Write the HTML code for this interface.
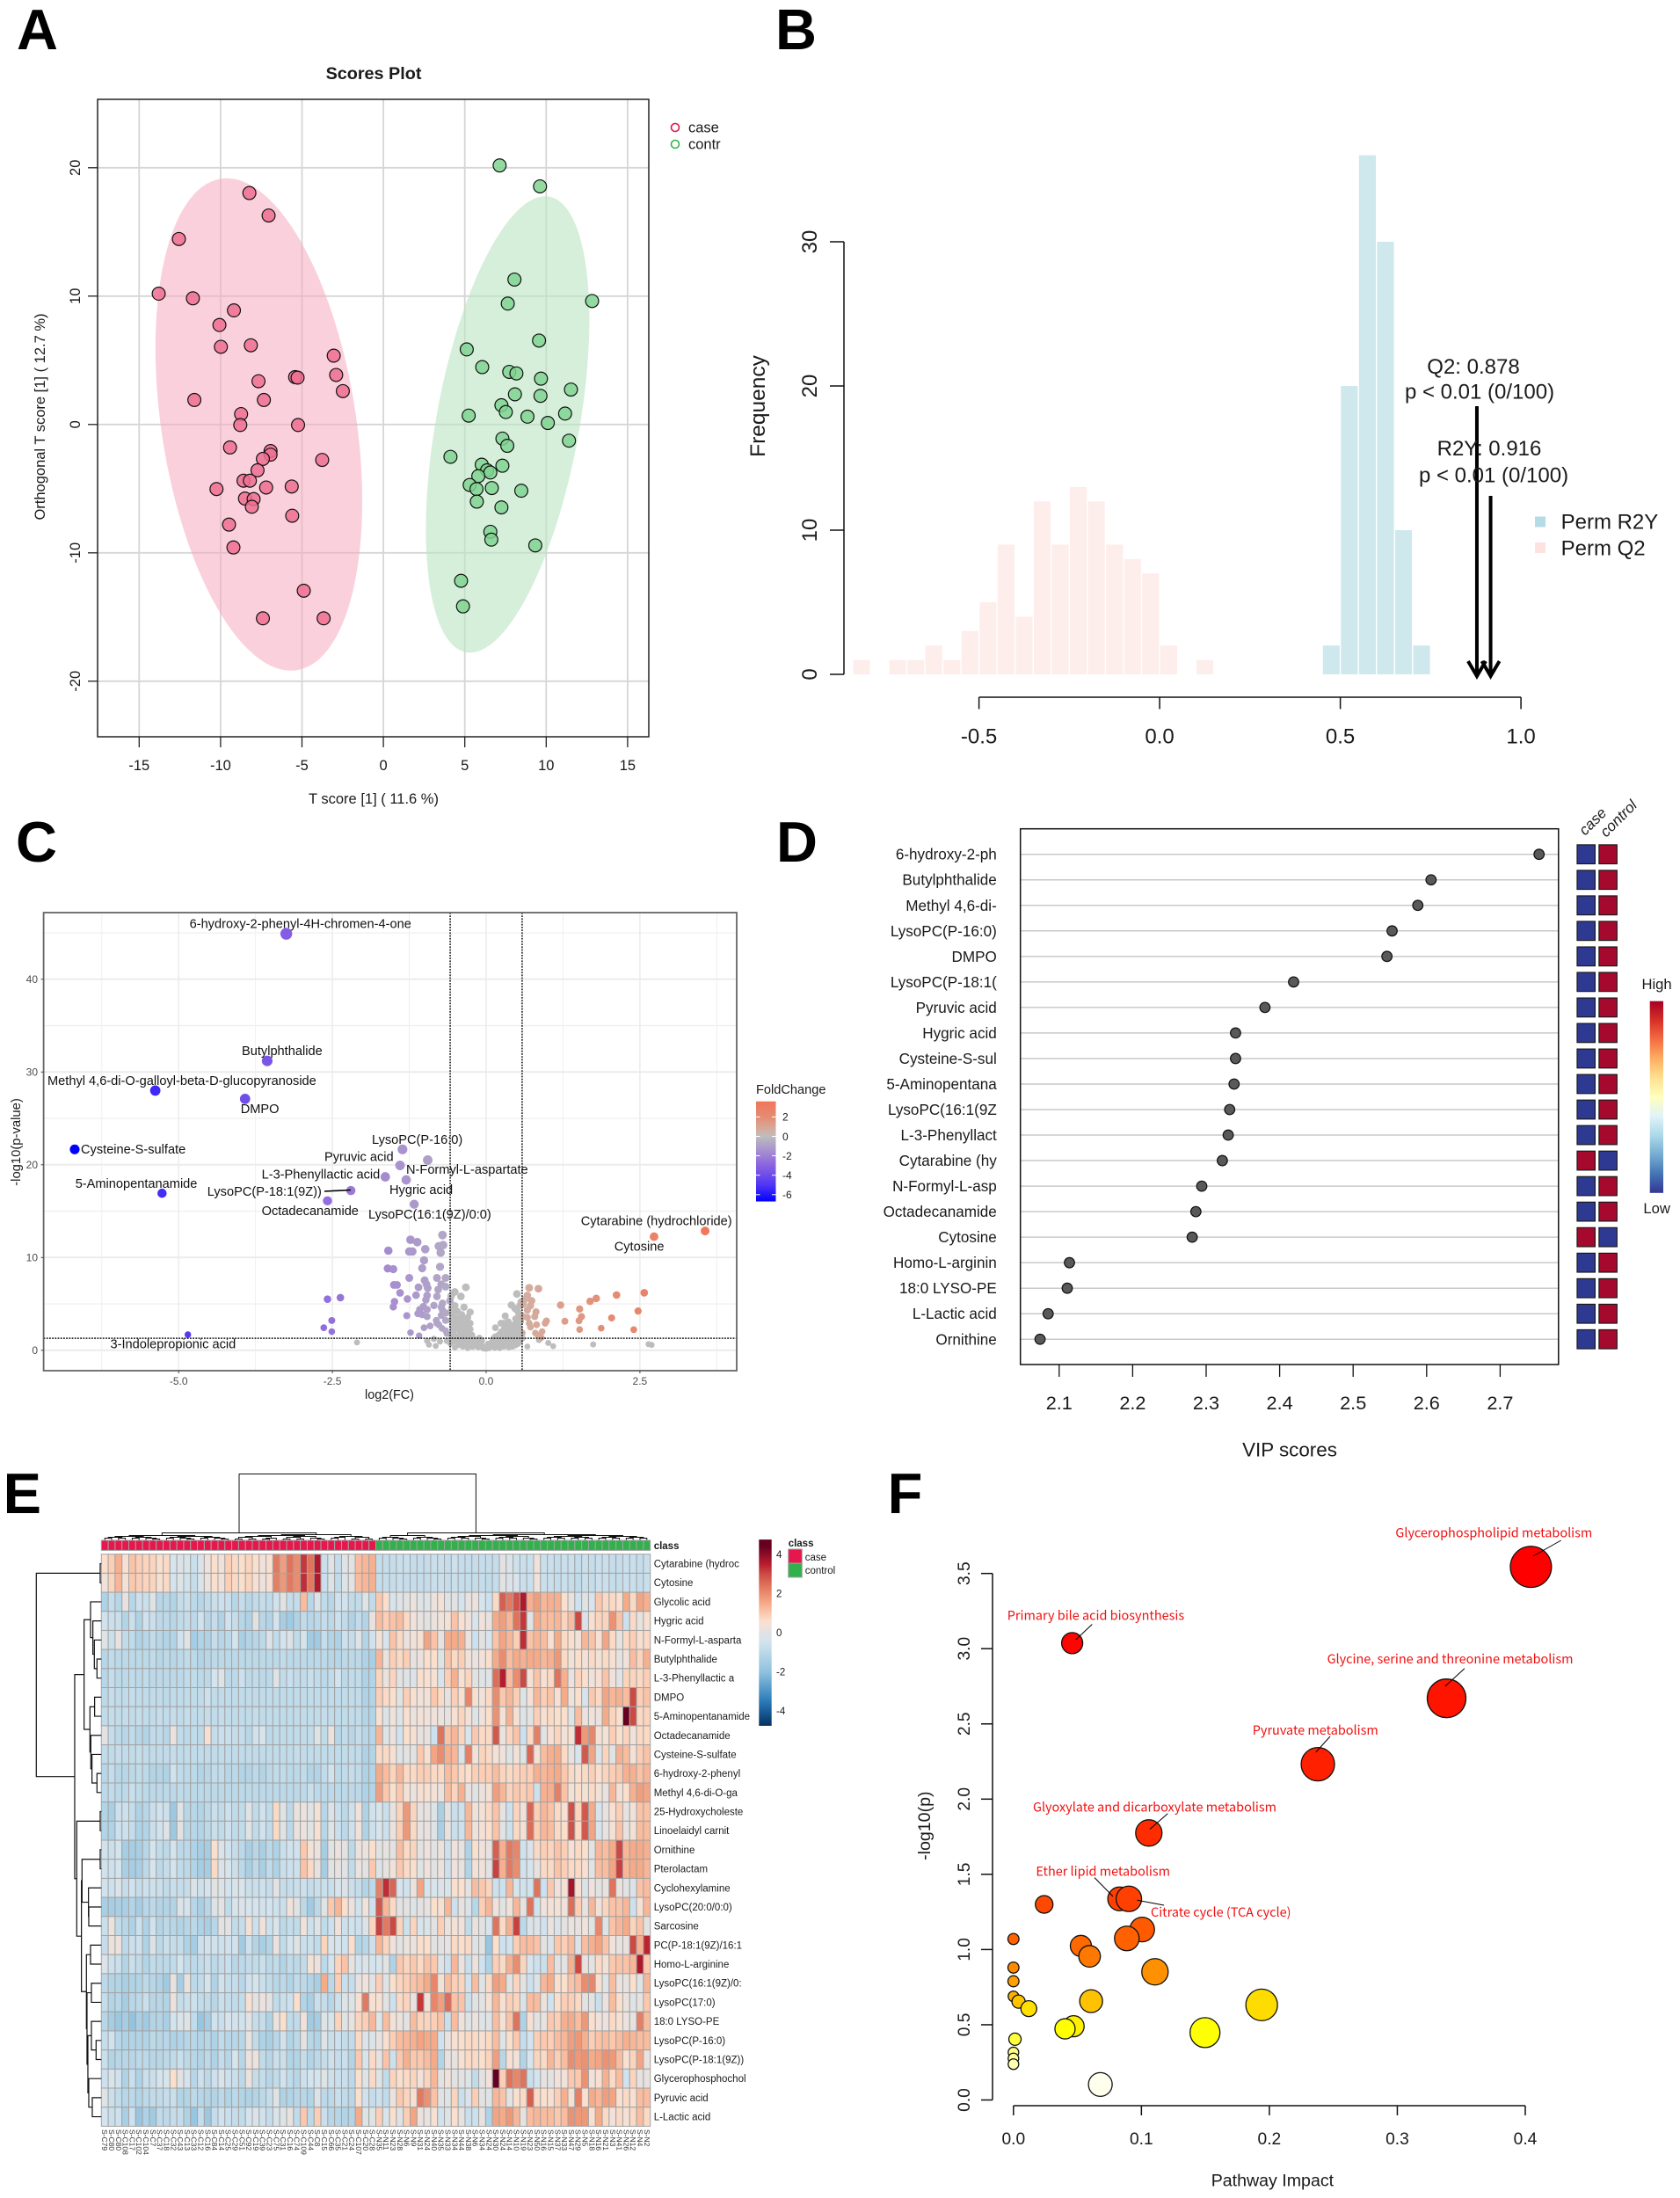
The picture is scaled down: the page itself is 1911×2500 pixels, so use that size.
<!DOCTYPE html>
<html lang="en">
<head>
<meta charset="utf-8">
<title>Metabolomics multi-panel figure</title>
<style>
html,body{margin:0;padding:0;background:#fff}
svg{display:block}
text{font-family:"Liberation Sans",Arial,sans-serif;fill:#1a1a1a}
.letter{font-weight:bold;font-size:65px;fill:#000}
.redlab{font-family:"Noto Sans CJK SC","Liberation Sans",sans-serif;font-size:14.45px;fill:#f01010}
.vlab{font-size:14.6px;fill:#111}
</style>
</head>
<body>
<svg id="fig" xmlns="http://www.w3.org/2000/svg" width="1911" height="2500" viewBox="0 0 1911 2500">
<rect x="0" y="0" width="1911" height="2500" fill="#fff"/>
<text class="letter" x="19" y="56">A</text>
<text class="letter" x="882" y="56">B</text>
<text class="letter" x="18" y="980">C</text>
<text class="letter" x="883" y="980">D</text>
<text class="letter" x="3.6" y="1721">E</text>
<text class="letter" x="1009.6" y="1721">F</text>

<g id="panelA"></g>
<text x="425" y="90" text-anchor="middle" font-size="19.8" font-weight="bold">Scores Plot</text>
<text x="425" y="914" text-anchor="middle" font-size="16.5">T score [1] ( 11.6 %)</text>
<text transform="translate(51,474) rotate(-90)" text-anchor="middle" font-size="16.5">Orthogonal T score [1] ( 12.7 %)</text>
<circle cx="768" cy="145" r="4.5" fill="none" stroke="#e0164c" stroke-width="1.6"/>
<circle cx="768" cy="164" r="4.5" fill="none" stroke="#35b34a" stroke-width="1.6"/>
<text x="783" y="150.5" font-size="16.5">case</text>
<text x="783" y="169.5" font-size="16.5">contr</text>

<g id="panelB"></g>
<text transform="translate(870,462) rotate(-90)" text-anchor="middle" font-size="24.5">Frequency</text>
<text x="1676" y="425" text-anchor="middle" font-size="24">Q2: 0.878</text>
<text x="1683" y="453.5" text-anchor="middle" font-size="24">p &lt; 0.01 (0/100)</text>
<text x="1694" y="518" text-anchor="middle" font-size="24">R2Y: 0.916</text>
<text x="1699" y="548.5" text-anchor="middle" font-size="24">p &lt; 0.01 (0/100)</text>
<rect x="1746" y="587.5" width="12" height="12" fill="#b5dbe6"/>
<rect x="1746" y="617" width="12" height="12" fill="#fde3e0"/>
<text x="1775.6" y="601.6" font-size="24">Perm R2Y</text>
<text x="1775.6" y="631.5" font-size="24">Perm Q2</text>

<g id="panelC"></g>
<g>
<text class="vlab" x="215.6" y="1055.7">6-hydroxy-2-phenyl-4H-chromen-4-one</text>
<text class="vlab" x="275" y="1200">Butylphthalide</text>
<text class="vlab" x="54" y="1234">Methyl 4,6-di-O-galloyl-beta-D-glucopyranoside</text>
<text class="vlab" x="273.7" y="1266">DMPO</text>
<text class="vlab" x="92" y="1312">Cysteine-S-sulfate</text>
<text class="vlab" x="85.7" y="1351">5-Aminopentanamide</text>
<text class="vlab" x="423" y="1301">LysoPC(P-16:0)</text>
<text class="vlab" x="369" y="1320.7">Pyruvic acid</text>
<text class="vlab" x="462" y="1335">N-Formyl-L-aspartate</text>
<text class="vlab" x="297.6" y="1340.6">L-3-Phenyllactic acid</text>
<text class="vlab" x="443" y="1358">Hygric acid</text>
<text class="vlab" x="235.8" y="1360">LysoPC(P-18:1(9Z))</text>
<line x1="369" y1="1355" x2="399" y2="1353.5" stroke="#000" stroke-width="1.6"/>
<text class="vlab" x="297.6" y="1382">Octadecanamide</text>
<text class="vlab" x="419" y="1386">LysoPC(16:1(9Z)/0:0)</text>
<text class="vlab" x="660.7" y="1393.5">Cytarabine (hydrochloride)</text>
<text class="vlab" x="698.7" y="1422.6">Cytosine</text>
<text class="vlab" x="125.5" y="1533.6">3-Indolepropionic acid</text>
</g>
<text x="443" y="1591" text-anchor="middle" font-size="14.4">log2(FC)</text>
<text transform="translate(23,1299) rotate(-90)" text-anchor="middle" font-size="14.8">-log10(p-value)</text>
<text x="860" y="1244" font-size="14.6">FoldChange</text>

<g id="panelD"></g>
<text x="1467" y="1656.4" text-anchor="middle" font-size="22.4">VIP scores</text>
<text transform="translate(1803,951) rotate(-45)" font-size="17" font-style="italic">case</text>
<text transform="translate(1827,953) rotate(-45)" font-size="17" font-style="italic">control</text>
<text x="1884.6" y="1125" text-anchor="middle" font-size="16.6">High</text>
<text x="1884.6" y="1380" text-anchor="middle" font-size="16.6">Low</text>

<g id="panelE"></g>
<text x="743.7" y="1762" font-size="11.5" font-weight="bold">class</text>
<text x="896.7" y="1759" font-size="11.5" font-weight="bold">class</text>
<rect x="896.7" y="1762" width="15.6" height="16" fill="#e6174d" stroke="#a3a3a3"/>
<rect x="896.7" y="1778" width="15.6" height="16" fill="#32b04c" stroke="#a3a3a3"/>
<text x="915.7" y="1775" font-size="11.5">case</text>
<text x="915.7" y="1790" font-size="11.5">control</text>

<g id="panelF"></g>
<text x="1447.4" y="2486.5" text-anchor="middle" font-size="19.6">Pathway Impact</text>
<text transform="translate(1058,2076.7) rotate(-90)" text-anchor="middle" font-size="19.6">-log10(p)</text>
<g>
<text class="redlab" x="1587.4" y="1748.4">Glycerophospholipid metabolism</text>
<text class="redlab" x="1145.8" y="1842.6">Primary bile acid biosynthesis</text>
<text class="redlab" x="1509.6" y="1892">Glycine, serine and threonine metabolism</text>
<text class="redlab" x="1424.8" y="1972.8">Pyruvate metabolism</text>
<text class="redlab" x="1175" y="2060.6">Glyoxylate and dicarboxylate metabolism</text>
<text class="redlab" x="1178.4" y="2133.5">Ether lipid metabolism</text>
<text class="redlab" x="1309" y="2180">Citrate cycle (TCA cycle)</text>
</g>
<g id="panelFLeaders" stroke="#000" stroke-width="1">
<line x1="1775.7" y1="1752" x2="1743.8" y2="1770"/>
<line x1="1242.3" y1="1847.5" x2="1223.7" y2="1865"/>
<line x1="1665.9" y1="1897.8" x2="1643.8" y2="1918"/>
<line x1="1513" y1="1975" x2="1496.8" y2="1993"/>
<line x1="1328.3" y1="2062.8" x2="1308" y2="2080.5"/>
<line x1="1245" y1="2135.6" x2="1266" y2="2157"/>
<line x1="1324" y1="2167" x2="1293.4" y2="2161.3"/>
</g>
</svg>

<script>
/* ---------- Panel A data: T score, orthogonal T score ---------- */
const scoresCase=[[-8.23,18.03],[-7.05,16.28],[-12.56,14.45],[-13.8,10.19],[-11.7,9.83],[-9.18,8.89],[-10.07,7.75],[-9.98,6.05],[-8.14,6.17],[-3.05,5.36],[-2.9,3.86],[-2.49,2.6],[-5.42,3.69],[-5.27,3.65],[-7.67,3.37],[-11.61,1.91],[-7.34,1.91],[-8.74,0.81],[-8.79,-0.04],[-5.24,-0.04],[-9.42,-1.79],[-6.93,-2.07],[-6.93,-2.35],[-7.4,-2.68],[-3.76,-2.76],[-7.73,-3.57],[-8.59,-4.38],[-8.2,-4.38],[-7.2,-4.91],[-5.63,-4.83],[-10.25,-5.03],[-8.5,-5.77],[-7.97,-5.81],[-8.08,-6.41],[-5.6,-7.11],[-9.48,-7.8],[-9.21,-9.58],[-4.89,-12.95],[-7.4,-15.1],[-3.67,-15.1]];
const scoresControl=[[7.14,20.18],[9.62,18.55],[8.05,11.29],[7.64,9.42],[12.82,9.62],[9.56,6.54],[5.12,5.85],[6.07,4.47],[7.73,4.1],[8.17,3.98],[9.68,3.57],[11.52,2.72],[8.08,2.35],[9.65,2.23],[7.25,1.5],[7.52,0.97],[5.24,0.69],[8.85,0.61],[11.16,0.85],[10.1,0.12],[7.31,-1.1],[7.61,-1.66],[11.4,-1.26],[4.12,-2.52],[6.04,-3.13],[7.31,-3.21],[6.37,-3.57],[6.57,-3.74],[5.83,-4.02],[5.3,-4.71],[5.72,-5.03],[6.66,-4.95],[8.47,-5.16],[5.74,-6.01],[7.25,-6.46],[6.57,-8.36],[6.63,-8.97],[9.33,-9.42],[4.77,-12.18],[4.89,-14.17]];
const scoresXTicks=[-15,-10,-5,0,5,10,15];
const scoresYTicks=[-20,-10,0,10,20];
const ellipseCase=[-7.65,0,6.35,19.18,-0.31];
const ellipseControl=[7.63,0,5.02,17.78,0.46];

/* ---------- Panel B data: permutation histogram (bins of 0.05) ---------- */
const q2BinStarts=[-0.85,-0.75,-0.7,-0.65,-0.6,-0.55,-0.5,-0.45,-0.4,-0.35,-0.3,-0.25,-0.2,-0.15,-0.1,-0.05,0,0.1];
const q2Counts=[1,1,1,2,1,3,5,9,4,12,9,13,12,9,8,7,2,1];
const r2yBinStarts=[0.45,0.5,0.55,0.6,0.65,0.7];
const r2yCounts=[2,20,36,30,10,2];
const histXTicks=[-0.5,0,0.5,1];
const histYTicks=[0,10,20,30];
const observedQ2=0.878;
const observedR2Y=0.916;

/* ---------- Panel C data: log2(FC), -log10(p) ---------- */
const volcanoGray=[[-0.33,6.79],[-0.51,6.29],[-0.57,5.85],[-0.41,5.81],[-0.59,5.34],[-0.51,4.8],[-0.56,4.58],[-0.36,4.64],[-0.26,4.11],[-0.52,3.7],[-0.4,3.85],[-0.57,3.22],[-0.45,3.38],[-0.3,3.54],[-0.26,2.91],[-0.52,2.75],[-0.38,2.75],[-0.47,2.27],[-0.33,2.27],[-0.54,2.12],[-0.26,2.27],[-0.4,1.8],[-0.3,1.64],[-0.57,1.64],[-0.47,1.48],[-0.23,1.64],[-0.11,1.33],[-0.52,1.01],[-0.38,1.01],[-0.23,0.85],[-0.45,0.54],[-0.3,0.22],[-0.51,0.28],[-0.57,0.79],[-0.16,0.54],[-0.09,0.38],[-0.02,0.16],[0.01,0.16],[0.05,0.22],[0.1,0.38],[0.17,0.54],[0.22,0.22],[0.29,0.38],[0.36,0.54],[0.43,0.38],[0.1,1.01],[0.2,1.17],[0.29,1.33],[0.39,1.17],[0.46,0.85],[0.5,1.33],[0.15,2.43],[0.24,1.96],[0.34,1.8],[0.43,2.12],[0.29,2.91],[0.31,3.7],[0.36,3.06],[0.46,2.75],[0.53,3.38],[0.41,4.87],[0.5,6.07],[0.55,4.8],[0.5,4.33],[0.59,3.7],[0.54,2.43],[0.59,1.86],[0.15,1.48],[0.03,0.7],[-0.07,1.01],[-0.19,1.17],[-0.4,1.17],[-0.52,1.64],[0.34,2.43],[0.24,2.91],[0.48,3.38],[-0.47,2.91],[-0.3,2.75],[-0.35,3.22],[-0.42,1.96],[-0.3,1.01],[-0.19,0.54],[-0.09,0.85],[-0.45,1.01],[-0.26,0.54],[-0.38,0.38],[0.2,0.38],[0.29,0.85],[0.41,0.85],[0.48,0.54],[0.15,0.85],[0.08,0.79],[0.39,1.96],[0.29,2.27],[0.2,1.64],[0.46,1.64],[-2.1,0.85],[-0.96,1.01],[-0.93,0.6],[-0.85,1.23],[-0.82,0.47],[-0.75,0.95],[-0.64,1.01],[-0.58,0.7],[0.67,0.41],[0.86,1.11],[1.01,0.79],[1.09,0.44],[1.74,0.63],[0.59,1.29],[2.64,0.66],[2.69,0.58],[-0.55,3.4],[-0.48,3.1],[-0.42,2.6],[-0.36,2.4],[-0.5,2.5],[-0.44,2.2],[-0.38,2],[-0.33,1.9],[-0.55,1.3],[-0.49,1.2],[-0.44,1.3],[-0.35,1.4],[-0.27,1.3],[-0.21,1.1],[-0.16,0.9],[-0.12,0.7],[-0.55,0.9],[-0.48,0.8],[-0.42,0.75],[-0.35,0.7],[-0.28,0.75],[-0.22,0.35],[-0.13,0.3],[-0.06,0.5],[-0.05,0.2],[0.03,0.3],[0.07,0.5],[0.12,0.6],[0.14,0.25],[0.18,0.8],[0.22,0.65],[0.25,0.45],[0.27,1.1],[0.32,0.6],[0.33,1.05],[0.37,0.3],[0.4,0.55],[0.44,0.9],[0.48,1.1],[0.52,0.7],[0.55,1],[0.56,1.5],[0.5,1.8],[0.52,2.2],[0.44,1.4],[0.38,1.45],[0.32,1.5],[0.26,1.4],[0.22,1.3],[0.16,1.15],[0.12,1.3],[0.47,2.4],[0.42,2.7],[0.38,2.6],[0.33,2.9],[0.5,2.9],[0.56,3.1],[0.53,4],[0.47,4.5],[0.57,5.2],[-0.58,4.1],[-0.47,4.2],[-0.55,2.6],[-0.42,3.2],[-0.34,2.9],[-0.29,2.1]];
const volcanoDown=[[-0.71,12.42],[-1.23,11.91],[-1.12,11.66],[-0.77,11.22],[-0.7,11.34],[-1.59,10.74],[-1.25,10.65],[-1.2,10.65],[-0.99,10.9],[-0.74,10.52],[-1.01,9.7],[-1.6,8.82],[-1.51,8.75],[-1.04,8.85],[-0.75,9],[-1.25,7.8],[-0.8,7.8],[-0.66,7.8],[-1.5,7.05],[-1.45,7.05],[-1,7.55],[-0.97,7.11],[-1.1,6.79],[-0.95,6.7],[-0.73,7.11],[-0.66,6.86],[-1.4,6.19],[-0.78,6.54],[-0.96,5.91],[-1.14,5.94],[-0.8,5.81],[-1.28,5.53],[-0.98,5.43],[-1.49,5.24],[-1.51,4.68],[-0.71,5.06],[-0.85,4.83],[-1.02,4.71],[-0.96,4.39],[-1.08,4.39],[-0.73,4.64],[-0.71,4.33],[-1.11,3.95],[-1.04,3.85],[-1.29,3.73],[-0.96,3.63],[-0.73,3.76],[-0.66,4.01],[-0.81,3.22],[-0.66,3.22],[-0.91,2.62],[-1.01,2.43],[-0.77,2.75],[-0.72,2.37],[-0.66,2.12],[-1.23,1.9],[-1.09,1.58],[-0.64,1.8],[-0.8,2.91],[-2.58,5.51],[-2.37,5.67],[-2.51,3.21],[-2.64,2.43],[-2.51,2.01]];
const volcanoUp=[[0.7,6.73],[0.85,6.64],[0.67,5.91],[0.62,5.43],[0.6,4.96],[0.74,5.34],[0.72,4.8],[0.67,4.33],[0.81,4.14],[0.6,3.63],[0.67,3.54],[0.79,3.63],[0.7,2.91],[0.72,2.5],[0.82,2.75],[0.98,3.16],[0.96,2.91],[0.8,1.86],[0.91,2.02],[0.84,1.64],[0.9,1.36],[1.21,4.87],[1.28,3.13],[1.52,4.45],[1.55,3.63],[1.51,3.19],[1.52,2.24],[1.69,5.28],[1.79,5.59],[2.04,3.49],[1.87,2.38],[2.12,5.96],[2.57,6.2],[2.47,4.23],[2.4,2.22]];
const volcanoNamed=[[-3.25,44.9],[-3.56,31.2],[-5.38,28],[-3.92,27.1],[-6.69,21.66],[-5.27,16.93],[-1.36,21.66],[-0.95,20.5],[-1.4,19.93],[-1.64,18.7],[-1.3,18.37],[-2.2,17.22],[-2.58,16.11],[-1.17,15.74],[3.56,12.86],[2.73,12.25],[-4.85,1.69]];
const volcanoXTicks=[-5,-2.5,0,2.5];
const volcanoYTicks=[0,10,20,30,40];
const volcanoXMinor=[-6.25,-3.75,-1.25,1.25,3.75];
const volcanoYMinor=[5,15,25,35,45];
const fcCutoffs=[-0.585,0.585];
const pCutoff=1.3;
const foldLegendTicks=[2,0,-2,-4,-6];

/* ---------- Panel D data ---------- */
const vipNames=["6-hydroxy-2-ph","Butylphthalide","Methyl 4,6-di-","LysoPC(P-16:0)","DMPO","LysoPC(P-18:1(","Pyruvic acid","Hygric acid","Cysteine-S-sul","5-Aminopentana","LysoPC(16:1(9Z","L-3-Phenyllact","Cytarabine (hy","N-Formyl-L-asp","Octadecanamide","Cytosine","Homo-L-arginin","18:0 LYSO-PE","L-Lactic acid","Ornithine"];
const vipScores=[2.753,2.606,2.588,2.553,2.546,2.419,2.38,2.34,2.34,2.338,2.332,2.33,2.322,2.294,2.286,2.281,2.114,2.111,2.085,2.074];
const vipCaseHigh=[0,0,0,0,0,0,0,0,0,0,0,0,1,0,0,1,0,0,0,0];
const vipTicks=[2.1,2.2,2.3,2.4,2.5,2.6,2.7];

/* ---------- Panel E data: z-scores in tenths; case = columns 1-40, control = columns 41-80 ---------- */
const heatRowNames=["Cytarabine (hydroc","Cytosine","Glycolic acid","Hygric acid","N-Formyl-L-asparta","Butylphthalide","L-3-Phenyllactic a","DMPO","5-Aminopentanamide","Octadecanamide","Cysteine-S-sulfate","6-hydroxy-2-phenyl","Methyl 4,6-di-O-ga","25-Hydroxycholeste","Linoelaidyl carnit","Ornithine","Pterolactam","Cyclohexylamine","LysoPC(20:0/0:0)","Sarcosine","PC(P-18:1(9Z)/16:1","Homo-L-arginine","LysoPC(16:1(9Z)/0:","LysoPC(17:0)","18:0 LYSO-PE","LysoPC(P-16:0)","LysoPC(P-18:1(9Z))","Glycerophosphochol","Pyruvic acid","L-Lactic acid"];
const heatColumnIds=["S-C79","S-C80","S-C80","S-C108","S-C17","S-C102","S-C104","S-C7","S-C37","S-C18","S-C32","S-C43","S-C13","S-C33","S-C12","S-C16","S-C84","S-C14","S-C25","S-C29","S-C51","S-C92","S-C19","S-C39","S-C23","S-C75","S-C31","S-C16","S-C74","S-C109","S-C44","S-C8","S-C15","S-C66","S-C35","S-C21","S-C24","S-C107","S-C20","S-C28","S-N35","S-N11","S-N23","S-N28","S-N6","S-N9","S-N31","S-N24","S-N40","S-N35","S-N33","S-N34","S-N44","S-N38","S-N6","S-N34","S-N24","S-N30","S-N24","S-N14","S-N10","S-N19","S-N23","S-N50","S-N16","S-N15","S-N37","S-N33","S-N47","S-N29","S-N5","S-N18","S-N16","S-N21","S-N3","S-N41","S-N26","S-N12","S-N4","S-N2"];
const heatCase=[
[6,9,14,5,11,9,8,8,6,7,-3,-2,-3,-7,-2,3,6,3,9,7,6,8,6,3,5,23,17,24,20,32,24,36,-7,-1,-8,-1,0,12,13,14],
[3,8,13,4,10,9,8,8,5,7,-4,-1,-5,-8,-2,2,6,3,9,7,6,8,5,2,5,22,18,23,20,33,23,36,-7,-2,-9,-1,0,12,13,14],
[-13,-8,-11,1,-11,-6,-7,-1,-11,-11,-12,-8,-7,-10,-11,-9,-7,-6,-7,-11,-8,-11,-9,-8,-9,-5,0,-8,-8,12,-11,-2,-9,-11,-5,-5,-9,-9,-1,-9],
[-5,-7,-7,-12,-7,-13,-5,-7,-10,-10,-11,-9,-8,-10,-5,-11,-8,-13,-5,-8,-11,-13,0,-11,-12,-4,-15,-16,-13,-9,-11,-10,-8,-10,-6,-9,-13,-9,-12,1],
[-1,-7,1,-9,-9,-13,-11,-9,-11,-12,-12,-5,-1,-15,-12,-13,-8,-11,-10,-4,-14,-12,-11,-10,-2,-9,-4,-2,-9,-4,-16,-16,-8,-12,-13,-6,-8,-1,-12,-5],
[-11,-9,-10,-10,-10,-10,-10,-9,-11,-10,-11,-10,-9,-10,-12,-11,-10,-10,-10,-10,-10,-10,-10,-10,-10,-10,-9,-10,-10,-10,-10,-10,-10,-11,-11,-10,-10,-10,-13,-14],
[-11,-8,-10,-10,-9,-10,-9,-10,-10,-10,-10,-10,-9,-9,-10,-10,-4,-1,-10,-10,-6,-10,-9,-10,-10,-1,-9,-7,-9,-9,-7,-9,-10,-9,-4,-10,-9,-9,-13,-12],
[-10,-8,-9,-9,-8,-9,-9,-9,-9,-10,-9,-9,-9,-9,-9,-6,-9,-9,-9,-9,-9,-9,-9,-9,-9,-9,-9,-9,-9,-9,-9,-9,-9,-9,-9,-9,-9,-9,-13,-12],
[-9,-8,-9,-8,-9,-8,-9,-9,-8,-9,-8,-9,-8,-9,-9,-8,-9,-8,-9,-9,-9,-9,-8,-9,-9,-9,-9,-9,-9,-9,-9,-9,-8,-9,-9,-9,-9,-9,-12,-12],
[0,-8,-10,-11,-9,-11,-12,-9,-9,-11,2,-9,-10,-9,-10,5,-8,-7,-7,-8,-8,-11,-5,-3,-10,-9,-9,-9,-9,-9,-9,-1,-9,2,-11,-9,-11,-8,-11,-11],
[-9,-9,-8,-9,-9,-8,-9,-9,-9,-9,-8,-9,-9,-9,-9,-9,-9,-9,-9,-9,-9,-9,-9,-9,-9,-9,-9,-9,-8,-9,-9,-9,-9,-9,-9,-9,-9,-9,-13,-12],
[-11,-8,-11,-11,-10,-9,-10,-12,-12,-13,-5,-9,-10,-10,-12,-11,-9,-9,-11,-10,-12,-12,-10,-12,-10,-9,-9,-10,-10,-9,-12,-12,-9,-5,-10,-9,-8,-9,-13,-12],
[-10,-9,-10,-10,-7,-9,-10,-10,-10,-10,-10,-9,-10,-10,-10,-10,-10,-10,-10,-10,-10,-10,-10,-10,-10,-10,-10,-10,-10,-10,-7,-10,-10,-10,-10,-10,-10,-10,-13,-12],
[-12,-14,-6,-6,-8,-13,-11,-7,-5,-6,-17,-1,-11,-11,-12,-10,-7,-9,-6,-9,-9,-1,-9,-5,-9,7,-1,-10,2,2,-1,4,-11,-2,-7,-10,-6,3,-13,-5],
[-12,-13,-6,-6,-8,-13,-12,-7,-5,-1,-17,0,-11,-11,-12,-10,-7,-9,-6,-9,-9,-1,-9,-5,-9,7,-1,-10,2,2,-1,5,-11,-1,-7,-10,-6,3,-13,-6],
[-5,-7,-4,-15,-15,-14,-11,-4,-9,-10,-4,-10,-10,-13,-15,-15,6,-2,-5,-8,-10,-14,-11,-14,-10,-13,-7,-5,-5,10,4,2,-15,0,2,0,-10,2,2,6],
[-5,-6,-4,-14,-15,-14,-10,-3,-10,-8,-4,-9,-10,-12,-15,-15,7,-2,-3,-7,-10,-14,-10,-14,-9,-13,-7,-6,-6,11,7,1,-15,0,1,-1,-9,2,0,10],
[-5,-6,-2,-8,-5,-8,-6,-6,-7,-9,-7,-8,-8,-2,-6,-4,0,-2,-4,-3,-3,-7,-7,-6,-8,0,-8,-8,-7,-6,-8,-7,-7,-7,-3,-2,-7,-8,-12,-10],
[-14,-15,-14,-14,-12,-15,-11,-10,-12,-12,-12,-2,-4,-11,-14,-11,-2,0,-9,-3,-2,-3,-4,-5,-4,-6,-7,3,0,-10,-16,-10,-1,10,13,6,2,-5,3,-6],
[-7,2,-9,-11,-13,-6,-13,-5,-12,-10,-11,-12,-11,-10,-13,-14,-11,0,0,-9,-8,4,-6,3,-6,-3,-10,-8,-9,3,-6,-1,-9,-6,3,-6,-5,-6,-2,8],
[-8,2,2,-10,-7,-6,-13,-2,-10,-7,-8,-8,-13,-15,-6,-5,-5,-6,-5,-5,-16,-6,-12,-14,-12,2,-9,-4,-1,-7,-7,-9,8,-3,-3,-5,6,-12,-11,-6],
[-2,-6,-7,-12,-7,-9,-12,-9,-10,-10,-9,-4,-9,-10,-9,-7,-10,-8,-7,-11,-10,-9,-9,-7,-10,-9,-12,-9,-10,-9,4,2,-10,-4,8,11,1,-4,-2,-4],
[-10,-12,-12,-14,-13,-12,-10,-11,-13,-16,1,-15,1,-10,-9,-4,-13,-5,-8,-8,-11,-5,-4,-7,-9,-11,-10,-12,-9,-10,-12,-14,15,-10,9,-7,-8,1,3,0],
[-8,-12,-11,-15,-11,-10,-7,-11,-11,-12,2,-8,-7,-6,-9,-9,-11,-7,-8,-9,-9,5,0,2,0,-9,-7,-6,6,-12,-14,-7,-8,-11,-6,-1,-2,5,23,5],
[-11,-15,-17,-15,-19,-14,-16,-12,-12,-14,-4,-3,-1,-9,-18,-15,-5,-7,-3,-5,-5,-1,-8,-8,-13,2,6,-9,-9,3,-16,-15,-1,-3,8,-1,1,8,9,13],
[-8,-5,-11,-13,-12,-12,-12,-10,-11,-11,-13,-12,-11,-11,-12,-11,-13,-9,-11,-11,-11,1,-9,-13,-14,-11,-5,-12,-10,0,-11,-12,-1,-7,-6,-8,-9,7,-2,-2],
[-7,-12,-11,-11,-11,-10,-10,-11,-11,-10,-9,-7,-10,-11,-12,-10,-13,-8,-11,-3,-11,2,2,-9,-11,-7,-7,-12,-12,-8,-12,-10,-8,-6,-8,-7,-12,10,-3,7],
[-6,-3,-5,-13,-7,-13,-7,-7,-4,-3,6,0,-4,-11,-6,-10,-6,-3,-6,-7,-10,2,-8,-8,-11,-9,-5,-9,-11,-6,-4,-4,-1,-6,-7,-7,-10,6,-1,7],
[-1,-7,-9,-11,-10,-12,-10,-9,-9,-8,-7,-12,-12,-10,-11,-12,-12,-10,-12,-10,-12,-13,-12,-10,-8,-1,-13,-12,-11,-11,-12,-2,-10,-10,-7,-9,-11,6,-5,-8],
[-4,-7,-6,-14,-6,-18,-13,-16,-9,-10,-8,-8,-13,-18,-8,-17,-8,-5,-7,-8,-9,-4,-2,-5,-8,-3,-1,1,-9,10,-10,9,-7,-11,-11,-12,-12,15,-1,-1]
];
const heatControl=[
[-8,-8,-8,-7,-7,-8,-8,-8,-7,-7,-8,-6,-8,-8,-8,-8,-8,-8,0,-2,-6,-7,-7,3,-7,-7,-8,-7,-7,-8,-7,-8,-7,-7,-8,-8,-7,-7,-8,-7],
[-8,-8,-8,-7,-8,-8,-8,-8,-7,-7,-8,-7,-8,-8,-8,-8,-9,-8,0,-2,-3,-7,-7,3,-7,-7,-8,-7,-8,-9,-7,-8,-6,-7,-8,-8,-7,-7,-8,-7],
[10,6,-3,-1,0,2,-1,-1,2,4,-1,0,-4,1,2,-3,-6,7,27,23,29,36,14,17,13,14,14,6,1,-5,-1,-3,10,7,7,6,15,7,16,14],
[12,9,11,12,7,3,1,0,2,3,4,11,5,3,-3,3,1,15,17,13,24,32,-1,15,12,12,13,8,12,30,-2,5,8,8,19,11,-6,7,1,5],
[4,-3,11,7,2,3,5,16,11,1,15,15,14,2,-6,0,-3,11,16,13,9,33,11,13,12,5,15,7,6,3,13,11,5,16,7,1,7,9,5,7],
[13,2,9,7,9,1,2,6,6,-1,11,7,9,3,2,3,6,15,20,12,15,14,15,15,13,14,18,7,4,6,4,7,4,7,5,1,3,12,8,14],
[8,2,8,0,-1,-2,6,5,5,-3,9,14,5,8,0,-1,-1,25,35,12,20,30,4,11,5,7,24,14,2,8,6,3,5,11,3,0,8,8,7,9],
[9,7,6,0,9,5,3,4,10,7,1,9,5,21,5,3,7,20,10,13,9,-1,4,13,9,11,5,15,3,6,-3,10,7,16,13,14,12,30,9,11],
[5,-2,3,-1,6,2,4,3,3,2,1,5,8,4,-1,3,6,19,4,14,4,-1,0,9,5,7,6,6,-1,12,2,3,2,15,8,6,45,30,7,8],
[13,-1,2,-5,6,5,1,1,-6,24,11,13,8,-3,10,7,7,28,2,8,11,-6,7,22,0,5,8,4,5,33,18,21,4,4,9,6,8,3,7,7],
[7,7,5,-1,0,0,10,5,16,20,14,13,-2,22,4,8,7,4,3,-1,4,-1,26,4,12,14,15,7,1,-3,28,16,-2,8,-1,14,12,4,9,11],
[15,12,8,13,7,7,9,9,7,7,12,10,7,6,9,9,9,12,8,7,8,9,9,14,13,14,15,10,7,5,7,9,6,8,9,10,14,14,11,13],
[17,10,6,10,4,2,5,5,4,2,12,8,14,1,0,2,4,17,13,8,10,9,10,-6,14,14,22,11,4,6,4,7,4,1,13,4,6,14,17,16],
[-3,-7,1,8,18,8,1,1,-1,-14,0,-7,-6,13,3,4,7,11,1,-6,8,3,26,9,13,11,7,5,29,8,28,15,-3,1,5,9,1,3,11,11],
[-3,-6,2,9,18,7,1,1,-1,-14,1,-7,-6,13,3,4,6,11,0,-6,7,4,25,9,13,12,7,6,29,7,28,16,-3,1,4,11,1,4,12,12],
[0,1,0,12,7,8,0,3,0,2,-6,3,1,-13,6,3,1,27,14,23,21,-5,-2,7,9,8,11,9,5,7,6,0,13,12,15,30,13,15,15,14],
[-1,1,3,10,7,6,-1,3,0,2,-6,3,1,-12,4,3,0,31,14,23,20,-5,-3,1,7,7,11,9,7,7,5,0,12,12,16,31,13,15,15,13],
[22,33,26,-3,-5,2,16,-3,-3,-2,-3,6,6,0,12,10,8,-6,-6,13,-3,-5,-5,24,-6,10,3,4,37,5,-2,3,0,1,24,2,0,-2,11,12],
[28,13,7,0,0,-1,0,1,6,5,13,-6,1,-2,-11,9,13,3,0,3,13,1,24,-5,3,4,4,3,25,9,1,13,3,8,11,11,13,-6,5,13],
[31,23,30,8,-6,8,-3,-2,0,9,2,4,3,-9,1,0,-3,24,7,14,31,-10,-2,-2,-5,2,-2,0,2,1,3,0,21,-1,11,13,15,8,11,0],
[13,8,3,0,2,2,6,6,0,0,1,7,6,7,-1,0,-18,6,-6,-5,9,12,12,11,0,-2,10,9,12,-2,12,14,16,11,3,1,1,30,14,34],
[-3,0,-13,10,8,10,7,11,10,-1,-6,13,2,-7,2,-5,-13,9,7,14,20,8,-3,-6,-7,12,0,0,14,30,1,0,7,4,10,11,11,13,36,10],
[9,-1,6,8,9,11,12,15,21,4,12,9,8,-5,12,-1,7,17,15,0,8,0,-6,-1,13,15,6,6,11,12,20,21,5,-1,12,2,1,6,-1,13],
[5,0,-6,7,8,2,32,4,21,17,25,11,11,-7,0,0,4,13,5,9,8,-2,12,12,2,-5,6,9,9,7,0,0,-7,2,12,6,2,-1,1,10],
[-1,12,4,2,0,12,8,8,9,11,-7,12,3,-1,2,-1,-1,12,4,11,24,-13,5,0,1,10,9,14,15,12,18,6,3,2,7,5,2,1,22,12],
[1,5,9,12,13,14,16,15,15,-5,2,5,6,7,7,5,7,12,-1,6,10,-8,-4,9,10,9,12,13,17,18,14,9,11,12,10,12,14,13,12,12],
[1,11,-6,10,14,10,10,12,15,-12,1,1,5,7,7,6,8,17,-11,5,3,-12,-3,8,7,13,9,12,20,18,19,15,16,19,18,12,5,8,16,2],
[-1,-9,8,6,7,8,3,8,13,0,3,0,0,-1,-9,0,3,44,9,24,21,24,-7,-4,1,0,3,3,10,10,19,3,5,14,7,12,-5,8,1,1],
[-6,-9,2,10,8,5,23,19,11,0,-1,8,-7,-2,9,0,-1,13,11,0,6,7,27,7,6,5,9,14,5,22,6,15,13,17,16,6,7,5,12,12],
[9,-3,6,-1,9,16,2,1,5,-5,-1,6,1,-7,-6,1,-13,16,15,18,13,1,12,13,12,12,10,12,19,18,18,5,15,7,3,7,4,7,12,7]
];
const heatLegendTicks=[4,2,0,-2,-4];
/* dendrograms: [merge height, childA, childB]; numbers as children are leaf indices */
const rowTree=[222,[4,0,1],[91,[59,[37,2,[29,3,[24,4,[15,5,6]]]],[39,[23,7,8],[36,9,[32,10,[15,11,12]]]]],[84,[4,13,14],[68,[66,[4,15,16],[44,17,[43,18,19]]],[51,[37,20,21],[49,[34,22,23],[46,[34,24,[18,25,26]],[43,27,[31,28,29]]]]]]]]];
const columnTree=[75,
 [8,[5,[4,[3,[2,0,1],[2,2,3]],[3,[2,4,5],[2,6,[1,7,8]]]],[4,[3,[2,9,10],[2,11,[1,12,13]]],[3,[2,14,15],[2,16,[1,17,18]]]]],
    [6,[5,[4,[3,[1,19,20],[1,21,22]],[2,[1,23,24],25]],[4,[3,[1,26,27],[1,28,29]],[2,30,[1,31,32]]]],[4,[3,[2,33,34],35],[3,[1,36,37],[1,38,39]]]]],
 [8,[5,[3,[2,40,41],[2,42,[1,43,44]]],[3,[2,45,46],[2,47,[1,48,49]]]],
    [6,[5,[4,[3,[2,50,51],[2,52,53]],[2,54,[1,55,56]]],[4,[3,[2,57,58],[2,59,60]],[2,61,[1,62,63]]]],[5,[4,[3,[2,64,65],[2,66,67]],[3,[2,68,69],[2,70,71]]],[4,[3,[2,72,73],[2,74,75]],[3,[2,76,77],[2,78,79]]]]]]
];

/* ---------- Panel F data: [impact, -log10(p), node size] ---------- */
const pathways=[[0.4044,3.544,23.4],[0.0459,3.037,12],[0.3385,2.67,22],[0.2379,2.232,19],[0.1058,1.775,15],[0.083,1.337,13.5],[0.0902,1.337,14.5],[0.024,1.3,10],[0.1006,1.133,14],[0.0886,1.074,14],[0.0527,1.024,12],[0.0595,0.955,12.3],[0,1.07,6.3],[0,0.88,6.3],[0,0.789,6.3],[0,0.689,6],[0.004,0.654,7.5],[0.012,0.607,9],[0.0607,0.657,13],[0.1106,0.852,15],[0.194,0.632,18],[0.1497,0.448,17],[0.047,0.49,12],[0.0403,0.473,11.5],[0.0012,0.404,7],[0,0.316,6],[0,0.276,6],[0,0.238,6],[0.0679,0.103,13.5]];
const pathwayXTicks=[0,0.1,0.2,0.3,0.4];
const pathwayYTicks=[0,0.5,1,1.5,2,2.5,3,3.5];

/* ---------- helpers ---------- */
const NS='http://www.w3.org/2000/svg';
function mk(tag,attrs,parent){const el=document.createElementNS(NS,tag);for(const k in attrs)el.setAttribute(k,attrs[k]);parent.appendChild(el);return el;}
function named(el,name){
  
  
  return el;
}
function hex(c){return [parseInt(c.slice(1,3),16),parseInt(c.slice(3,5),16),parseInt(c.slice(5,7),16)];}
function ramp(stops,v){
  if(v<=stops[0][0])return stops[0][1];
  for(let i=1;i<stops.length;i++){
    if(v<=stops[i][0]){
      const t=(v-stops[i-1][0])/(stops[i][0]-stops[i-1][0]);
      const a=hex(stops[i-1][1]),b=hex(stops[i][1]);
      return 'rgb('+a.map((x,j)=>Math.round(x+(b[j]-x)*t)).join(',')+')';
    }
  }
  return stops[stops.length-1][1];
}
function fmt(v,d){return v.toFixed(d);}
const svg=document.getElementById('fig');
const defs=mk('defs',{},svg);
function gradient(id,stops,lo,hi){
  const g=mk('linearGradient',{id:id,x1:0,y1:0,x2:0,y2:1},defs);
  stops.slice().reverse().forEach(s=>mk('stop',{offset:(hi-s[0])/(hi-lo),'stop-color':s[1]},g));
}

/* ---------- Panel A ---------- */
(function(){
  const g=document.getElementById('panelA');
  const x=v=>436.1+18.52*v, y=v=>482.8-14.6*v;
  scoresXTicks.forEach(t=>{
    const l=mk('line',{x1:x(t),x2:x(t),y1:113,y2:838,stroke:'#d6d6d6','stroke-width':1.8},g);
    named(l,'x-gridline');
  });
  scoresYTicks.forEach(t=>{
    const l=mk('line',{x1:111,x2:738,y1:y(t),y2:y(t),stroke:'#d6d6d6','stroke-width':1.8},g);
    named(l,'y-gridline');
  });
  function ellipse(p,fill,op,name){
    let d='';
    const phi=Math.acos(p[4]);
    for(let i=0;i<=120;i++){
      const t=i/120*2*Math.PI;
      d+=(i?'L':'M')+x(p[0]+p[2]*Math.cos(t)).toFixed(1)+' '+y(p[1]+p[3]*Math.cos(t-phi)).toFixed(1);
    }
    const e=mk('path',{d:d+'Z',fill:fill,'fill-opacity':op},g);
    named(e,name);
  }
  ellipse(ellipseCase,'#f5a9bf',0.55,'case-confidence-ellipse');
  ellipse(ellipseControl,'#bde5c4',0.62,'control-confidence-ellipse');
  scoresCase.forEach(p=>{
    const c=mk('circle',{cx:x(p[0]),cy:y(p[1]),r:7.4,fill:'#ef6f92','fill-opacity':0.85,stroke:'#111','stroke-width':1.2},g);
    named(c,'case-point');
  });
  scoresControl.forEach(p=>{
    const c=mk('circle',{cx:x(p[0]),cy:y(p[1]),r:7.4,fill:'#80d390','fill-opacity':0.85,stroke:'#111','stroke-width':1.2},g);
    named(c,'control-point');
  });
  const box=mk('rect',{x:111,y:113,width:627,height:725,fill:'none',stroke:'#222','stroke-width':1.5},g);
  named(box,'scores-plot-frame');
  scoresXTicks.forEach(t=>{
    const l=mk('line',{x1:x(t),x2:x(t),y1:838,y2:850,stroke:'#222','stroke-width':1.3},g);
    named(l,'x-tick');
    const s=mk('text',{x:x(t),y:876,'text-anchor':'middle','font-size':16.5},g);
    s.textContent=t;
    named(s,'x-tick-label');
  });
  scoresYTicks.forEach(t=>{
    const l=mk('line',{x1:100,x2:111,y1:y(t),y2:y(t),stroke:'#222','stroke-width':1.3},g);
    named(l,'y-tick');
    const s=mk('text',{transform:'translate(91,'+y(t)+') rotate(-90)','text-anchor':'middle','font-size':16.5},g);
    s.textContent=t;
    named(s,'y-tick-label');
  });
})();

/* ---------- Panel B ---------- */
(function(){
  const g=document.getElementById('panelB');
  const x=v=>1319.1+411*v, y=v=>767-16.4*v, w=0.05;
  function bars(starts,counts,fill,name){
    starts.forEach((s,i)=>{
      const r=mk('rect',{x:x(s)+0.7,y:y(counts[i]),width:x(s+w)-x(s)-1.4,height:y(0)-y(counts[i]),fill:fill},g);
      named(r,name);
    });
  }
  bars(q2BinStarts,q2Counts,'#fdeeec','q2-histogram-bar');
  bars(r2yBinStarts,r2yCounts,'#cfe8ee','r2y-histogram-bar');
  const ya=mk('line',{x1:960,x2:960,y1:y(30),y2:y(0),stroke:'#111','stroke-width':1.5},g);
  named(ya,'y-axis-line');
  histYTicks.forEach(t=>{
    const l=mk('line',{x1:944,x2:960,y1:y(t),y2:y(t),stroke:'#111','stroke-width':1.5},g);
    named(l,'y-tick');
    const s=mk('text',{transform:'translate(929,'+y(t)+') rotate(-90)','text-anchor':'middle','font-size':24},g);
    s.textContent=t;
    named(s,'y-tick-label');
  });
  const xa=mk('line',{x1:x(-0.5),x2:x(1),y1:793,y2:793,stroke:'#111','stroke-width':1.5},g);
  named(xa,'x-axis-line');
  histXTicks.forEach(t=>{
    const l=mk('line',{x1:x(t),x2:x(t),y1:793,y2:806.5,stroke:'#111','stroke-width':1.5},g);
    named(l,'x-tick');
    const s=mk('text',{x:x(t),y:845.5,'text-anchor':'middle','font-size':24},g);
    s.textContent=fmt(t,1);
    named(s,'x-tick-label');
  });
  function arrow(v,top,name){
    const a=mk('path',{d:'M'+x(v)+' '+top+'L'+x(v)+' 768M'+(x(v)-10)+' 752L'+x(v)+' 769L'+(x(v)+10)+' 752',fill:'none',stroke:'#000','stroke-width':4},g);
    named(a,name);
  }
  arrow(observedQ2,462,'q2-observed-arrow');
  arrow(observedR2Y,564,'r2y-observed-arrow');
})();

/* ---------- Panel C ---------- */
(function(){
  const g=document.getElementById('panelC');
  const x=v=>553+69.96*v, y=v=>1535.8-10.55*v;
  const foldStops=[[-6.7,'#0000ff'],[-5,'#5035f5'],[-3,'#8a63e0'],[-1.5,'#a78fd0'],[-0.6,'#b4aac5'],[0,'#bebebe'],[0.7,'#d4ac9e'],[2,'#e58c73'],[3.6,'#f0765a']];
  const L=49.6,R=838,T=1038,B=1559;
  volcanoXMinor.forEach(t=>{
    const l=mk('line',{x1:x(t),x2:x(t),y1:T,y2:B,stroke:'#f0f0f0','stroke-width':1},g);
    named(l,'volcano-x-minor-gridline');
  });
  volcanoYMinor.forEach(t=>{
    const l=mk('line',{x1:L,x2:R,y1:y(t),y2:y(t),stroke:'#f0f0f0','stroke-width':1.3},g);
    named(l,'volcano-y-minor-gridline');
  });
  volcanoXTicks.forEach(t=>{
    const l=mk('line',{x1:x(t),x2:x(t),y1:T,y2:B,stroke:'#ececec','stroke-width':1.6},g);
    named(l,'volcano-x-gridline');
  });
  volcanoYTicks.forEach(t=>{
    const l=mk('line',{x1:L,x2:R,y1:y(t),y2:y(t),stroke:'#ececec','stroke-width':2},g);
    named(l,'volcano-y-gridline');
  });
  function dot(p,name){
    const sig=Math.abs(p[0])>=-fcCutoffs[0]&&p[1]>=pCutoff;
    const c=mk('circle',{cx:x(p[0]),cy:y(p[1]),r:3+0.55*Math.sqrt(p[1]),fill:sig?ramp(foldStops,p[0]):'#bdbdbd'},g);
    named(c,name);
  }
  volcanoGray.forEach(p=>dot(p,'volcano-point-nonsignificant'));
  volcanoDown.forEach(p=>dot(p,'volcano-point-down'));
  volcanoUp.forEach(p=>dot(p,'volcano-point-up'));
  volcanoNamed.forEach(p=>dot(p,'volcano-point-named'));
  fcCutoffs.forEach(t=>{
    const l=mk('line',{x1:x(t),x2:x(t),y1:T,y2:B,stroke:'#111','stroke-width':1.5,'stroke-dasharray':'1.8 1.4'},g);
    named(l,'fold-change-cutoff');
  });
  const hl=mk('line',{x1:L,x2:R,y1:y(pCutoff),y2:y(pCutoff),stroke:'#111','stroke-width':1.5,'stroke-dasharray':'1.8 1.4'},g);
  named(hl,'p-value-cutoff');
  const box=mk('rect',{x:L,y:T,width:R-L,height:B-T,fill:'none',stroke:'#666','stroke-width':1.8},g);
  named(box,'volcano-frame');
  volcanoXTicks.forEach(t=>{
    const l=mk('line',{x1:x(t),x2:x(t),y1:B,y2:B+3,stroke:'#444'},g);
    named(l,'volcano-x-tick');
    const s=mk('text',{x:x(t),y:1575,'text-anchor':'middle','font-size':12,style:'fill:#4d4d4d'},g);
    s.textContent=fmt(t,1);
    named(s,'volcano-x-tick-label');
  });
  volcanoYTicks.forEach(t=>{
    const l=mk('line',{x1:L-3,x2:L,y1:y(t),y2:y(t),stroke:'#444'},g);
    named(l,'volcano-y-tick');
    const s=mk('text',{x:43,y:y(t)+4.3,'text-anchor':'end','font-size':12,style:'fill:#4d4d4d'},g);
    s.textContent=t;
    named(s,'volcano-y-tick-label');
  });
  const lo=-6.7,hi=3.6,ly=v=>1292.5-11.05*v;
  gradient('foldGrad',foldStops,lo,hi);
  const bar=mk('rect',{x:860,y:ly(hi),width:22.5,height:ly(lo)-ly(hi),fill:'url(#foldGrad)'},g);
  named(bar,'foldchange-colorbar');
  foldLegendTicks.forEach(t=>{
    const a=mk('line',{x1:860,x2:864.5,y1:ly(t),y2:ly(t),stroke:'#fff'},g);
    named(a,'foldchange-tick');
    const b=mk('line',{x1:878,x2:882.5,y1:ly(t),y2:ly(t),stroke:'#fff'},g);
    named(b,'foldchange-tick');
    const s=mk('text',{x:890,y:ly(t)+4.3,'font-size':12},g);
    s.textContent=t;
    named(s,'foldchange-tick-label');
  });
})();

/* ---------- Panel D ---------- */
(function(){
  const g=document.getElementById('panelD');
  const x=v=>1204.8+836*(v-2.1), y=i=>971.7+29.03*i;
  vipNames.forEach((n,i)=>{
    const l=mk('line',{x1:1161,x2:1772.8,y1:y(i),y2:y(i),stroke:'#c9c9c9','stroke-width':1.5},g);
    named(l,'vip-row-line');
    const s=mk('text',{x:1133.8,y:y(i)+6,'text-anchor':'end','font-size':17.1},g);
    s.textContent=n;
    named(s,'vip-metabolite-label');
  });
  vipScores.forEach((v,i)=>{
    const c=mk('circle',{cx:x(v),cy:y(i),r:5.8,fill:'#595959',stroke:'#111','stroke-width':1.2},g);
    named(c,'vip-score-point');
  });
  const box=mk('rect',{x:1160.7,y:942.7,width:612.1,height:609.3,fill:'none',stroke:'#111','stroke-width':1.5},g);
  named(box,'vip-frame');
  vipTicks.forEach(t=>{
    const l=mk('line',{x1:x(t),x2:x(t),y1:1552,y2:1566,stroke:'#111','stroke-width':1.3},g);
    named(l,'vip-x-tick');
    const s=mk('text',{x:x(t),y:1603,'text-anchor':'middle','font-size':21.7},g);
    s.textContent=fmt(t,1);
    named(s,'vip-x-tick-label');
  });
  vipCaseHigh.forEach((h,i)=>{
    const a=mk('rect',{x:1794,y:y(i)-10.8,width:20.4,height:21.6,fill:h?'#a50a2e':'#2e3a92',stroke:'#1a1a1a','stroke-width':1.2},g);
    named(a,'vip-tile-case');
    const b=mk('rect',{x:1818.9,y:y(i)-10.8,width:20.4,height:21.6,fill:h?'#2e3a92':'#a50a2e',stroke:'#1a1a1a','stroke-width':1.2},g);
    named(b,'vip-tile-control');
  });
  const st=[[0,'#313695'],[0.1,'#4575b4'],[0.2,'#74add1'],[0.3,'#abd9e9'],[0.4,'#e0f3f8'],[0.5,'#ffffbf'],[0.6,'#fee090'],[0.7,'#fdae61'],[0.8,'#f46d43'],[0.9,'#d73027'],[1,'#a50026']];
  gradient('vipGrad',st,0,1);
  const bar=mk('rect',{x:1876.7,y:1138.7,width:15.3,height:218.1,fill:'url(#vipGrad)'},g);
  named(bar,'vip-colorbar');
})();

/* ---------- Panel E ---------- */
(function(){
  const g=document.getElementById('panelE');
  const L=115.3,T=1767.7,cw=7.805,rh=21.69;
  const colX=k=>L+cw*k, rowY=r=>T+rh*r;
  const heatStops=[[-4.75,'#053061'],[-3.5,'#2b7bb9'],[-2,'#8fc2de'],[-1.5,'#a5cde3'],[-1.2,'#b2d4e7'],[-0.8,'#c5ddeb'],[-0.4,'#d3e4ee'],[0,'#e2e2e2'],[0.3,'#f0e2da'],[0.6,'#fadfcd'],[1,'#fbc8ad'],[1.5,'#f5aa88'],[2,'#ea8c6e'],[2.5,'#dc6d58'],[3,'#cc4a44'],[3.5,'#b71c2e'],[4.4,'#67001f'],[4.75,'#67001f']];
  heatRowNames.forEach((n,r)=>{
    const vals=heatCase[r].concat(heatControl[r]);
    vals.forEach((v,k)=>{
      const c=mk('rect',{x:colX(k),y:rowY(r),width:cw,height:rh,fill:ramp(heatStops,v/10),stroke:'#a3a3a3','stroke-width':1},g);
      named(c,'heatmap-cell');
    });
    const s=mk('text',{x:743.7,y:rowY(r)+rh/2+4,'font-size':11.5},g);
    s.textContent=n;
    named(s,'heatmap-row-label');
  });
  heatColumnIds.forEach((id,k)=>{
    const cb=mk('rect',{x:colX(k),y:1752,width:cw,height:11.4,fill:k<40?'#e6174d':'#32b04c',stroke:'#a3a3a3','stroke-width':1},g);
    named(cb,'class-bar-cell');
    const s=mk('text',{transform:'translate('+(colX(k)+cw/2-3)+',2422) rotate(90)','font-size':8.5,style:'fill:#333'},g);
    s.textContent=id;
    named(s,'heatmap-column-label');
  });
  function tree(node,leaf,draw){
    if(typeof node==='number')return {p:leaf(node),h:0};
    const a=tree(node[1],leaf,draw),b=tree(node[2],leaf,draw);
    draw(a,b,node[0]);
    return {p:(a.p+b.p)/2,h:node[0]};
  }
  let d='';
  tree(rowTree,r=>rowY(r)+rh/2,(a,b,h)=>{
    const hx=L-h/3;
    d+='M'+(L-a.h/3)+' '+a.p+'H'+hx+'V'+b.p+'H'+(L-b.h/3);
  });
  const rd=mk('path',{d:d,fill:'none',stroke:'#111','stroke-width':1.2},g);
  named(rd,'row-dendrogram');
  let e='';
  const base=1751.5;
  tree(columnTree,k=>colX(k)+cw/2,(a,b,h)=>{
    e+='M'+a.p+' '+(base-a.h)+'V'+(base-h)+'H'+b.p+'V'+(base-b.h);
  });
  const cd=mk('path',{d:e,fill:'none',stroke:'#111','stroke-width':1},g);
  named(cd,'column-dendrogram');
  gradient('heatGrad',heatStops,-4.75,4.75);
  const ly=v=>1857-22.3*v;
  const bar=mk('rect',{x:863.3,y:ly(4.75),width:14.4,height:ly(-4.75)-ly(4.75),fill:'url(#heatGrad)'},g);
  named(bar,'heatmap-colorbar');
  heatLegendTicks.forEach(t=>{
    const s=mk('text',{x:883,y:ly(t)+4,'font-size':11.5},g);
    s.textContent=t;
    named(s,'heatmap-colorbar-label');
  });
})();

/* ---------- Panel F ---------- */
(function(){
  const g=document.getElementById('panelF');
  const x=v=>1152.8+1455.5*v, y=v=>2388.5-171.1*v;
  const heat=[[0.1,'#ffffee'],[0.24,'#ffffb0'],[0.32,'#ffff80'],[0.4,'#ffff40'],[0.45,'#ffff00'],[0.475,'#ffff00'],[0.49,'#fff000'],[0.61,'#ffe000'],[0.632,'#ffdc00'],[0.654,'#ffc400'],[0.69,'#ffb000'],[0.79,'#ffa000'],[0.85,'#ff9000'],[0.88,'#ff8a00'],[0.95,'#ff7a00'],[1.02,'#ff6a00'],[1.07,'#ff6200'],[1.13,'#ff5a00'],[1.3,'#ff4800'],[1.337,'#ff4000'],[1.77,'#ff2c00'],[2.23,'#ff2000'],[2.67,'#ff1400'],[3.04,'#ff0500'],[3.54,'#ff0000']];
  pathways.forEach(p=>{
    const c=mk('circle',{cx:x(p[0]),cy:y(p[1]),r:p[2],fill:ramp(heat,p[1]),stroke:'#111','stroke-width':1.3},g);
    named(c,'pathway-point');
  });
  const ya=mk('line',{x1:1129,x2:1129,y1:y(3.5),y2:y(0),stroke:'#111','stroke-width':1.5},g);
  named(ya,'pathway-y-axis-line');
  pathwayYTicks.forEach(t=>{
    const l=mk('line',{x1:1116,x2:1129,y1:y(t),y2:y(t),stroke:'#111','stroke-width':1.5},g);
    named(l,'pathway-y-tick');
    const s=mk('text',{transform:'translate(1103,'+y(t)+') rotate(-90)','text-anchor':'middle','font-size':19.2},g);
    s.textContent=fmt(t,1);
    named(s,'pathway-y-tick-label');
  });
  const xa=mk('line',{x1:x(0),x2:x(0.4),y1:2395,y2:2395,stroke:'#111','stroke-width':1.5},g);
  named(xa,'pathway-x-axis-line');
  pathwayXTicks.forEach(t=>{
    const l=mk('line',{x1:x(t),x2:x(t),y1:2395,y2:2406,stroke:'#111','stroke-width':1.5},g);
    named(l,'pathway-x-tick');
    const s=mk('text',{x:x(t),y:2439,'text-anchor':'middle','font-size':19.2},g);
    s.textContent=fmt(t,1);
    named(s,'pathway-x-tick-label');
  });
})();
</script>
</body>
</html>
